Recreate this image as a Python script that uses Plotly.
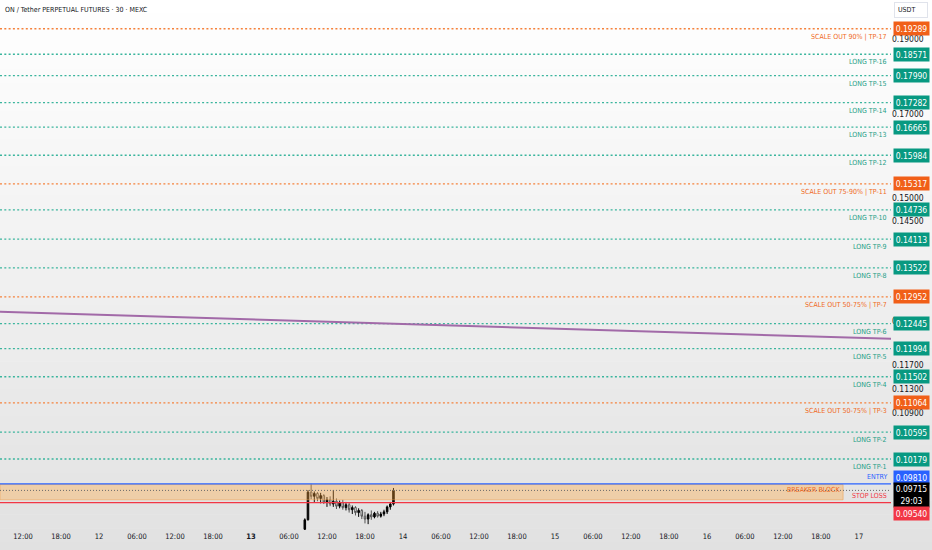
import math
import pandas as pd
import plotly.graph_objects as go

# ---------------- data ----------------
title_text = "ON / Tether PERPETUAL FUTURES · 30 · MEXC"
quote_unit = "USDT"

candle_start = "2025-01-13 08:30"
opens  = [0.0917, 0.0930, 0.0969, 0.0963, 0.0967, 0.0960, 0.0964, 0.0955, 0.0958, 0.0952,
          0.0956, 0.0949, 0.0954, 0.0947, 0.0951, 0.0944, 0.0947, 0.0940, 0.0943, 0.0935,
          0.0931, 0.0937, 0.0934, 0.0939, 0.0935, 0.0938, 0.0941, 0.0948, 0.0952]
highs  = [0.0932, 0.0972, 0.0981, 0.0970, 0.0969, 0.0968, 0.0966, 0.0962, 0.0963, 0.0972,
          0.0960, 0.0957, 0.0958, 0.0955, 0.0954, 0.0950, 0.0949, 0.0946, 0.0945, 0.0941,
          0.0939, 0.0943, 0.0941, 0.0942, 0.0941, 0.0944, 0.0950, 0.0955, 0.0975]
lows   = [0.0914, 0.0929, 0.0959, 0.0955, 0.0956, 0.0953, 0.0952, 0.0948, 0.0949, 0.0948,
          0.0945, 0.0946, 0.0944, 0.0943, 0.0940, 0.0938, 0.0936, 0.0934, 0.0931, 0.0925,
          0.0924, 0.0930, 0.0932, 0.0933, 0.0933, 0.0935, 0.0938, 0.0944, 0.0950]
closes = [0.0930, 0.0969, 0.0963, 0.0967, 0.0960, 0.0964, 0.0955, 0.0958, 0.0952, 0.0956,
          0.0949, 0.0954, 0.0947, 0.0951, 0.0944, 0.0947, 0.0940, 0.0943, 0.0935, 0.0931,
          0.0937, 0.0934, 0.0939, 0.0935, 0.0938, 0.0941, 0.0948, 0.0952, 0.09715]

level_names = ["SCALE OUT 90% | TP-17", "LONG TP-16", "LONG TP-15", "LONG TP-14", "LONG TP-13",
               "LONG TP-12", "SCALE OUT 75-90% | TP-11", "LONG TP-10", "LONG TP-9", "LONG TP-8",
               "SCALE OUT 50-75% | TP-7", "LONG TP-6", "LONG TP-5", "LONG TP-4",
               "SCALE OUT 50-75% | TP-3", "LONG TP-2", "LONG TP-1"]
level_values = [0.19289, 0.18571, 0.17990, 0.17282, 0.16665, 0.15984, 0.15317, 0.14736, 0.14113,
                0.13522, 0.12952, 0.12445, 0.11994, 0.11502, 0.11064, 0.10595, 0.10179]
level_kinds = ["scale", "long", "long", "long", "long", "long", "scale", "long", "long", "long",
               "scale", "long", "long", "long", "scale", "long", "long"]

entry_price = 0.09810
stop_price = 0.09540
last_price = 0.09715
countdown = "29:03"

breaker_label = "BREAKER BLOCK"
breaker_top = 0.0980
breaker_bottom = 0.0958
breaker_end = "2025-01-16 21:30"

x_range = ["2025-01-11 08:22", "2025-01-17 05:04"]
y_range = [0.09160, 0.20130]

trend_times = ["2025-01-11 08:22", "2025-01-17 05:04"]
trend_values = [0.12667, 0.12169]

y_tick_values = [0.19, 0.17, 0.15, 0.145, 0.125, 0.117, 0.113, 0.109]

x_tick_values = ["2025-01-11 12:00", "2025-01-11 18:00", "2025-01-12 00:00", "2025-01-12 06:00",
                 "2025-01-12 12:00", "2025-01-12 18:00", "2025-01-13 00:00", "2025-01-13 06:00",
                 "2025-01-13 12:00", "2025-01-13 18:00", "2025-01-14 00:00", "2025-01-14 06:00",
                 "2025-01-14 12:00", "2025-01-14 18:00", "2025-01-15 00:00", "2025-01-15 06:00",
                 "2025-01-15 12:00", "2025-01-15 18:00", "2025-01-16 00:00", "2025-01-16 06:00",
                 "2025-01-16 12:00", "2025-01-16 18:00", "2025-01-17 00:00"]
x_tick_labels = ["12:00", "18:00", "12", "06:00", "12:00", "18:00", "<b>13</b>", "06:00",
                 "12:00", "18:00", "14", "06:00", "12:00", "18:00", "15", "06:00",
                 "12:00", "18:00", "16", "06:00", "12:00", "18:00", "17"]

# ---------------- styles ----------------
FONT = "DejaVu Sans Condensed, DejaVu Sans, sans-serif"
TEAL_LINE = "#3ab59d"
TEAL_TEXT = "#1e9e86"
TEAL_BOX = "#089981"
ORANGE_LINE = "#f5823c"
ORANGE_TEXT = "#f06a23"
ORANGE_BOX = "#f15f18"
BLUE = "#2962ff"
RED = "#f23645"
DOTS = "2px,2.3px"

candle_times = pd.date_range(candle_start, periods=len(opens), freq="30min")

fig = go.Figure()

# gradient background
shapes = []
n_bands = 40
for i in range(n_bands):
    t = i / (n_bands - 1)
    c = int(round(255 - 30 * t))
    shapes.append(dict(type="rect", xref="paper", yref="paper", layer="below",
                       x0=-0.01, x1=1.1, y0=1.0 - (i + 1) / n_bands * 1.05,
                       y1=1.0 - i / n_bands * 1.05 + 0.001,
                       line=dict(width=0), fillcolor=f"rgb({c},{c},{c})"))

# breaker block
fig.add_trace(go.Scatter(
    x=[x_range[0], breaker_end, breaker_end, x_range[0], x_range[0]],
    y=[breaker_top, breaker_top, breaker_bottom, breaker_bottom, breaker_top],
    fill="toself", fillcolor="rgba(255,165,60,0.36)", mode="lines",
    line=dict(color="rgba(240,160,80,0.55)", width=1), hoverinfo="skip", showlegend=False))

# target levels
for name, val, kind in zip(level_names, level_values, level_kinds):
    col = ORANGE_LINE if kind == "scale" else TEAL_LINE
    fig.add_trace(go.Scatter(x=x_range, y=[val, val], mode="lines",
                             line=dict(color=col, width=1.3, dash=DOTS),
                             hoverinfo="skip", showlegend=False))

# trend line
fig.add_trace(go.Scatter(x=trend_times, y=trend_values, mode="lines",
                         line=dict(color="#a26aa8", width=2), hoverinfo="skip", showlegend=False))

# entry / stop / last price lines
fig.add_trace(go.Scatter(x=x_range, y=[entry_price, entry_price], mode="lines",
                         line=dict(color=BLUE, width=1.2), hoverinfo="skip", showlegend=False))
fig.add_trace(go.Scatter(x=x_range, y=[stop_price, stop_price], mode="lines",
                         line=dict(color=RED, width=1.2), hoverinfo="skip", showlegend=False))
fig.add_trace(go.Scatter(x=x_range, y=[last_price, last_price], mode="lines",
                         line=dict(color="#6a6a6a", width=1, dash="1px,2px"),
                         hoverinfo="skip", showlegend=False))

# candles
fig.add_trace(go.Candlestick(
    x=candle_times, open=opens, high=highs, low=lows, close=closes,
    increasing=dict(line=dict(color="#000000", width=1), fillcolor="#000000"),
    decreasing=dict(line=dict(color="#555555", width=1), fillcolor="#ffffff"),
    whiskerwidth=0, showlegend=False))

annotations = []
lg = math.log10
LBL = 7
BOX = 8.5

# level labels and price boxes
for name, val, kind in zip(level_names, level_values, level_kinds):
    tcol = ORANGE_TEXT if kind == "scale" else TEAL_TEXT
    bcol = ORANGE_BOX if kind == "scale" else TEAL_BOX
    annotations.append(dict(xref="paper", yref="y", x=1, y=lg(val), xanchor="right", yanchor="top",
                            xshift=-2, yshift=-2, text=name, showarrow=False,
                            font=dict(family=FONT, size=LBL, color=tcol)))
    annotations.append(dict(xref="paper", yref="y", x=1, y=lg(val), xanchor="left", yanchor="middle",
                            xshift=2, text=f"{val:.5f}", showarrow=False, bgcolor=bcol,
                            width=33, height=11, borderpad=1,
                            font=dict(family=FONT, size=BOX, color="#ffffff")))

# entry / stop / breaker texts
annotations.append(dict(xref="paper", yref="y", x=1, y=lg(entry_price), xanchor="right", yanchor="bottom",
                        xshift=-2, yshift=1, text="ENTRY", showarrow=False,
                        font=dict(family=FONT, size=LBL, color=BLUE)))
annotations.append(dict(xref="paper", yref="y", x=1, y=lg(stop_price), xanchor="right", yanchor="bottom",
                        xshift=-2, yshift=1, text="STOP LOSS", showarrow=False,
                        font=dict(family=FONT, size=LBL, color=RED)))
annotations.append(dict(xref="x", yref="y", x=breaker_end, y=lg(last_price), xanchor="right",
                        yanchor="middle", xshift=-1, text=breaker_label, showarrow=False,
                        font=dict(family=FONT, size=LBL, color=ORANGE_TEXT)))

annotations.append(dict(xref="paper", yref="y", x=1, y=lg(entry_price), xanchor="left", yanchor="middle",
                        xshift=2, yshift=6, text=f"{entry_price:.5f}", showarrow=False, bgcolor=BLUE,
                        width=33, height=11, borderpad=1,
                        font=dict(family=FONT, size=BOX, color="#ffffff")))
annotations.append(dict(xref="paper", yref="y", x=1, y=lg(last_price), xanchor="left", yanchor="middle",
                        xshift=2, yshift=-5, text=f"{last_price:.5f}<br>{countdown}", showarrow=False,
                        bgcolor="#000000", width=33, height=22, borderpad=1,
                        font=dict(family=FONT, size=BOX, color="#ffffff")))
annotations.append(dict(xref="paper", yref="y", x=1, y=lg(stop_price), xanchor="left", yanchor="middle",
                        xshift=2, yshift=-11, text=f"{stop_price:.5f}", showarrow=False, bgcolor=RED,
                        width=33, height=11, borderpad=1,
                        font=dict(family=FONT, size=BOX, color="#ffffff")))

# title and unit
annotations.append(dict(xref="paper", yref="paper", x=0, y=1, xanchor="left", yanchor="top",
                        xshift=3, yshift=-4, text=title_text, showarrow=False,
                        font=dict(family=FONT, size=7, color="#131722")))
annotations.append(dict(xref="paper", yref="paper", x=1, y=1, xanchor="left", yanchor="top",
                        xshift=3, yshift=-2, text=quote_unit, showarrow=False, bgcolor="#ffffff",
                        bordercolor="#e0e3eb", borderwidth=1, borderpad=3, width=26, align="left",
                        font=dict(family=FONT, size=7, color="#131722")))

fig.update_layout(
    width=932, height=550,
    margin=dict(l=0, r=41, t=0, b=20),
    paper_bgcolor="#ffffff", plot_bgcolor="rgba(0,0,0,0)",
    shapes=shapes, annotations=annotations, showlegend=False,
    font=dict(family=FONT, size=8, color="#131722"),
    xaxis=dict(type="date", range=x_range, showgrid=False, zeroline=False,
               rangeslider=dict(visible=False), tickvals=x_tick_values, ticktext=x_tick_labels,
               ticks="", tickfont=dict(family=FONT, size=7.5, color="#131722"), fixedrange=True),
    yaxis=dict(type="log", range=[lg(y_range[0]), lg(y_range[1])], side="right",
               showgrid=False, zeroline=False, tickvals=y_tick_values, tickformat=".5f",
               ticks="", tickfont=dict(family=FONT, size=BOX, color="#131722"), fixedrange=True),
)

fig.write_html("out.html", config={"displayModeBar": False},
               post_script="document.body.style.margin='0px';")
